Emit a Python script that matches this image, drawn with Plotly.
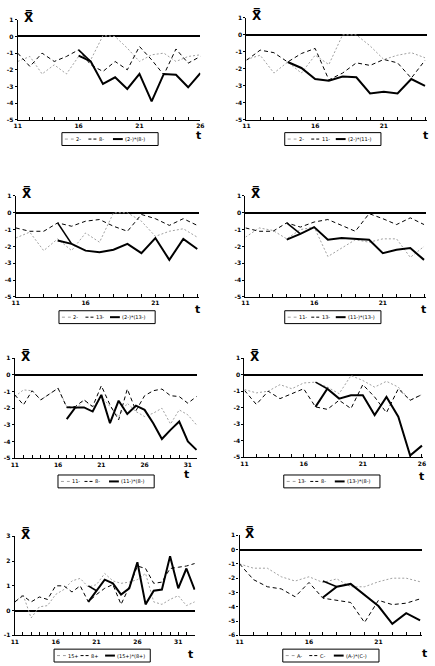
import plotly.graph_objects as go

W, H = 435, 666

# ---------------- data ----------------
# Panel 1: 2-, 8-, (2-)*(8-)
P1_T = list(range(11, 27))
P1_A = [-1.5, -1.2, -2.25, -1.7, -2.25, -1.2, -1.4, 0.05, 0.0, -0.7, -1.5, -1.1, -1.0, -1.5, -1.2, -1.1]
P1_B = [-1.0, -1.8, -1.0, -1.5, -1.2, -0.8, -1.7, -2.1, -1.5, -2.0, -0.6, -1.4, -2.3, -0.75, -1.6, -1.2]
P1_AB_T = list(range(16, 27))
P1_AB = [-1.15, -1.5, -2.85, -2.45, -3.15, -2.25, -3.9, -2.25, -2.3, -3.05, -2.2]
P1_ALT = -0.8
P1_NAMES = ["2-", "8-", "(2-)*(8-)"]

# Panel 2: 2-, 11-, (2-)*(11-)
P2_T = list(range(11, 25))
P2_A = [-1.45, -1.2, -2.25, -1.6, -2.25, -1.2, -1.75, 0.0, 0.0, -0.65, -1.45, -1.2, -1.05, -1.35]
P2_B = [-1.5, -0.9, -1.05, -1.6, -1.1, -0.8, -2.65, -2.25, -1.65, -1.8, -1.45, -1.65, -2.55, -1.5]
P2_AB_T = list(range(14, 25))
P2_AB = [-1.6, -1.95, -2.6, -2.7, -2.45, -2.5, -3.45, -3.35, -3.45, -2.6, -3.0]
P2_ALT = None
P2_NAMES = ["2-", "11-", "(2-)*(11-)"]

# Panel 3: 2-, 13-, (2-)*(13-)
P3_T = list(range(11, 25))
P3_A = [-1.5, -1.15, -2.25, -1.55, -2.25, -1.2, -1.75, 0.0, 0.0, -0.5, -1.4, -1.1, -0.95, -1.45]
P3_B = [-0.9, -1.1, -1.1, -0.6, -0.8, -0.5, -0.4, -0.8, -1.1, -0.1, -0.35, -0.75, -0.35, -0.75]
P3_AB_T = list(range(14, 25))
P3_AB = [-1.65, -1.85, -2.25, -2.35, -2.2, -1.85, -2.4, -1.5, -2.8, -1.55, -2.15]
P3_ALT = -0.6
P3_NAMES = ["2-", "13-", "(2-)*(13-)"]

# Panel 4: 11-, 13-, (11-)*(13-)
P4_T = list(range(11, 25))
P4_A = [-1.45, -0.9, -1.05, -1.55, -1.0, -0.85, -2.6, -2.1, -1.6, -1.75, -1.55, -1.55, -2.65, -2.0]
P4_B = [-0.9, -1.1, -1.1, -0.6, -0.85, -0.55, -0.4, -0.75, -1.1, -0.05, -0.35, -0.7, -0.3, -0.7]
P4_AB_T = list(range(14, 25))
P4_AB = [-1.6, -1.25, -0.85, -1.6, -1.5, -1.55, -1.6, -2.4, -2.2, -2.1, -2.8]
P4_ALT = -0.6
P4_NAMES = ["11-", "13-", "(11-)*(13-)"]

# Panel 5: 11-, 8-, (11-)*(8-)
P5_T = list(range(11, 33))
P5_A = [-1.3, -0.9, -0.95, -1.5, -1.15, -0.8, -1.9, -2.1, -1.5, -1.95, -1.3, -1.9, -2.5, -1.7, -2.2,
        -2.5, -2.3, -2.0, -2.95, -2.1, -2.4, -3.0]
P5_B = [-1.2, -1.8, -0.95, -1.5, -1.15, -0.8, -1.95, -1.9, -1.5, -1.9, -0.65, -1.8, -2.7, -0.85, -2.15,
        -1.25, -0.95, -0.85, -1.25, -1.3, -1.7, -1.3]
P5_AB_T = list(range(17, 33))
P5_AB = [-2.65, -1.95, -1.95, -2.2, -1.2, -2.9, -1.55, -2.35, -1.85, -2.1, -2.9, -3.85, -3.3, -2.8, -4.0, -4.5]
P5_ALT = -1.95
P5_NAMES = ["11-", "8-", "(11-)*(8-)"]

# Panel 6: 13-, 8-, (13-)*(8-)
P6_T = list(range(11, 27))
P6_A = [-0.9, -1.1, -1.0, -0.6, -0.85, -0.5, -0.45, -0.75, -1.15, -0.05, -0.35, -0.75, -0.4, -0.75, -1.55, -1.2]
P6_B = [-0.95, -1.8, -1.0, -1.45, -1.15, -0.85, -1.95, -2.1, -1.55, -2.05, -0.6, -1.35, -2.3, -0.85, -1.55, -1.2]
P6_AB_T = list(range(17, 27))
P6_AB = [-1.95, -0.85, -1.45, -1.25, -1.25, -2.45, -1.35, -2.55, -4.9, -4.3]
P6_ALT = -0.45
P6_NAMES = ["13-", "8-", "(13-)*(8-)"]

# Panel 7: 15+, 8+, (15+)*(8+)
P7_T = list(range(11, 34))
P7_A = [0.33, 0.65, -0.3, 0.15, 0.2, 0.65, 0.85, 1.2, 1.3, 0.95, 1.05, 1.5, 1.2, 1.1, 1.15, 1.25, 1.5,
        0.35, 0.25, 0.45, 0.6, 0.2, 0.35]
P7_B = [0.35, 0.6, 0.35, 0.55, 0.45, 1.0, 1.0, 0.75, 1.0, 0.35, 0.65, 0.9, 1.05, 0.25, 0.95, 1.8, 1.7,
        1.1, 1.15, 1.7, 1.75, 1.8, 1.9]
P7_AB_T = list(range(20, 34))
P7_AB = [0.35, 0.8, 1.25, 1.1, 0.65, 0.9, 1.95, 0.25, 0.8, 0.85, 2.2, 0.9, 1.7, 0.85]
P7_ALT = 1.0
P7_NAMES = ["15+", "8+", "(15+)*(8+)"]

# Panel 8: A-, C-, (A-)*(C-)
P8_T = list(range(11, 25))
P8_A = [-1.0, -1.3, -1.3, -1.9, -2.2, -1.9, -2.3, -2.05, -2.6, -2.6, -2.25, -2.0, -2.0, -2.25]
P8_B = [-1.0, -2.1, -2.6, -2.75, -3.3, -2.3, -3.4, -3.55, -3.7, -5.1, -3.55, -3.85, -3.75, -3.45]
P8_AB_T = list(range(17, 25))
P8_AB = [-3.35, -2.6, -2.4, -3.2, -3.95, -5.2, -4.45, -4.95]
P8_ALT = -2.2
P8_NAMES = ["A-", "C-", "(A-)*(C-)"]

X_LABELS_EVERY = 5

# ---------------- layout geometry (pixels) ----------------
panels = [
    dict(T=P1_T, A=P1_A, B=P1_B, ABT=P1_AB_T, AB=P1_AB, ALT=P1_ALT, names=P1_NAMES,
         box=(14, 200, 16, 117), xr=(11, 26), yr=(-5, 1), leg=(59, 130), tpos=(198, 133)),
    dict(T=P2_T, A=P2_A, B=P2_B, ABT=P2_AB_T, AB=P2_AB, ALT=P2_ALT, names=P2_NAMES,
         box=(247, 431, 14, 117), xr=(11, 24.15), yr=(-5, 1), leg=(286, 130), tpos=(429, 133)),
    dict(T=P3_T, A=P3_A, B=P3_B, ABT=P3_AB_T, AB=P3_AB, ALT=P3_ALT, names=P3_NAMES,
         box=(12, 199, 194, 296), xr=(11, 24.15), yr=(-5, 1), leg=(56, 310), tpos=(197, 309)),
    dict(T=P4_T, A=P4_A, B=P4_B, ABT=P4_AB_T, AB=P4_AB, ALT=P4_ALT, names=P4_NAMES,
         box=(246, 430, 194, 296), xr=(11, 24.15), yr=(-5, 1), leg=(286, 310), tpos=(427, 309)),
    dict(T=P5_T, A=P5_A, B=P5_B, ABT=P5_AB_T, AB=P5_AB, ALT=P5_ALT, names=P5_NAMES,
         box=(11, 197, 358, 459), xr=(11, 32.1), yr=(-5, 1), leg=(55, 476), tpos=(186, 475)),
    dict(T=P6_T, A=P6_A, B=P6_B, ABT=P6_AB_T, AB=P6_AB, ALT=P6_ALT, names=P6_NAMES,
         box=(245, 427, 358, 458), xr=(11, 26.1), yr=(-5, 1), leg=(285, 476), tpos=(425, 478)),
    dict(T=P7_T, A=P7_A, B=P7_B, ABT=P7_AB_T, AB=P7_AB, ALT=P7_ALT, names=P7_NAMES,
         box=(11, 195, 538, 638), xr=(11, 33.1), yr=(-1, 3), leg=(51, 652), tpos=(190, 657)),
    dict(T=P8_T, A=P8_A, B=P8_B, ABT=P8_AB_T, AB=P8_AB, ALT=P8_ALT, names=P8_NAMES,
         box=(240, 426, 537, 638), xr=(11, 24.15), yr=(-6, 1), leg=(284, 652), tpos=(428, 656)),
]

GRAY = "#a0a0a0"
DOT = "2px,2px"
DASH = "4px,3px"
FONT = "DejaVu Sans"


def fx(px):
    return px / W


def fy(py):
    return 1 - py / H


fig = go.Figure()
layout = dict(width=W, height=H, margin=dict(l=0, r=0, t=0, b=0),
              paper_bgcolor="white", plot_bgcolor="white", showlegend=False)
shapes, annotations = [], []

for i, p in enumerate(panels, start=1):
    xa = "x" if i == 1 else f"x{i}"
    ya = "y" if i == 1 else f"y{i}"
    x0, x1, yt, yb = p["box"]
    fig.add_trace(go.Scatter(x=p["T"], y=p["A"], mode="lines", xaxis=xa, yaxis=ya,
                             line=dict(color=GRAY, width=1, dash=DOT)))
    fig.add_trace(go.Scatter(x=p["T"], y=p["B"], mode="lines", xaxis=xa, yaxis=ya,
                             line=dict(color="black", width=1, dash=DASH)))
    if p["ALT"] is not None:
        fig.add_trace(go.Scatter(x=p["ABT"][:2], y=[p["ALT"], p["AB"][1]], mode="lines",
                                 xaxis=xa, yaxis=ya, line=dict(color="black", width=1.6)))
    fig.add_trace(go.Scatter(x=p["ABT"], y=p["AB"], mode="lines", xaxis=xa, yaxis=ya,
                             line=dict(color="black", width=2)))

    tmax = int(p["xr"][1])
    tv = list(range(11, tmax + 1))
    tt = [str(t) if (t - 11) % X_LABELS_EVERY == 0 else "" for t in tv]
    yv = list(range(p["yr"][0], p["yr"][1] + 1))
    yt_txt = [str(v) for v in yv]

    xkey = "xaxis" if i == 1 else f"xaxis{i}"
    ykey = "yaxis" if i == 1 else f"yaxis{i}"
    layout[xkey] = dict(domain=[fx(x0), fx(x1)], range=list(p["xr"]), anchor=ya,
                        showline=True, linecolor="black", linewidth=1.3,
                        ticks="inside", ticklen=3, tickcolor="black", tickwidth=1,
                        tickvals=tv, ticktext=tt, showgrid=False, zeroline=False,
                        tickfont=dict(family=FONT, size=6, color="black", weight="bold"))
    layout[ykey] = dict(domain=[fy(yb), fy(yt)], range=list(p["yr"]), anchor=xa,
                        showline=True, linecolor="black", linewidth=1.3,
                        ticks="outside", ticklen=2, tickcolor="black", tickwidth=1,
                        tickvals=yv, ticktext=yt_txt, showgrid=False,
                        zeroline=True, zerolinecolor="black", zerolinewidth=1.5,
                        tickfont=dict(family=FONT, size=6, color="black", weight="bold"))

    # X-bar label
    annotations.append(dict(x=fx(x0 + 11), y=fy(yt - 2), xref="paper", yref="paper",
                            text="X̿", showarrow=False, xanchor="center", yanchor="middle",
                            font=dict(family=FONT, size=12, color="black", weight="bold")))
    # t label
    annotations.append(dict(x=fx(p["tpos"][0]), y=fy(p["tpos"][1]), xref="paper", yref="paper",
                            text="t", showarrow=False, xanchor="center", yanchor="middle",
                            font=dict(family=FONT, size=11, color="black", weight="bold")))

    # manual legend box
    lx, ly = p["leg"]
    lw, lh = 98, 13
    shapes.append(dict(type="rect", xref="paper", yref="paper",
                       x0=fx(lx), x1=fx(lx + lw), y0=fy(ly + lh), y1=fy(ly),
                       line=dict(color="black", width=1), fillcolor="white"))
    cy = ly + lh / 2
    items = [(3, 9, dict(color=GRAY, width=1, dash="dot")),
             (27, 9, dict(color="black", width=1, dash="3px,2px")),
             (52, 10, dict(color="black", width=2))]
    for (off, ln, st), name in zip(items, p["names"]):
        shapes.append(dict(type="line", xref="paper", yref="paper",
                           x0=fx(lx + off), x1=fx(lx + off + ln), y0=fy(cy), y1=fy(cy), line=st))
        annotations.append(dict(x=fx(lx + off + ln + 1), y=fy(cy), xref="paper", yref="paper",
                                text=name, showarrow=False, xanchor="left", yanchor="middle",
                                borderpad=0,
                                font=dict(family=FONT, size=5, color="black")))

layout["shapes"] = shapes
layout["annotations"] = annotations
fig.update_layout(**layout)
fig.write_html("out.html")
